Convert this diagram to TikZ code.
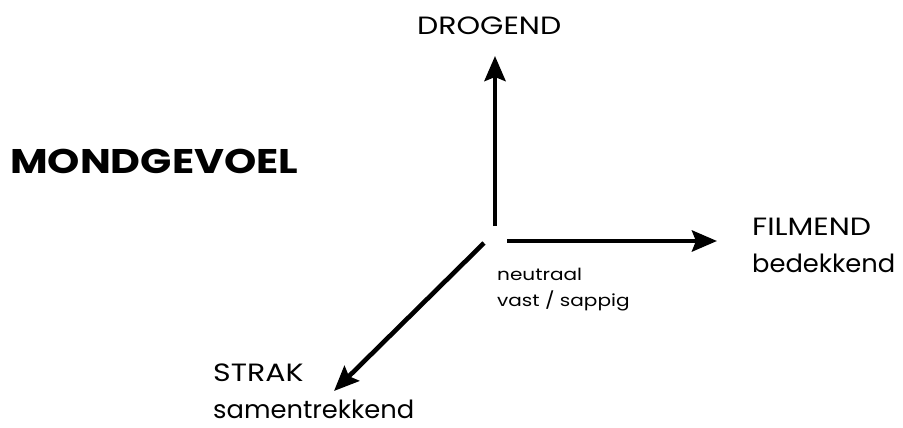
\documentclass[tikz,border=0pt]{standalone}
\usepackage{fontspec}
\setmainfont{Poppins}[FakeStretch=1.2]
\newfontfamily\lowerfont{Poppins}[FakeStretch=1.03]
\usetikzlibrary{arrows.meta}
\begin{document}
\begin{tikzpicture}[x=1pt,y=-1pt,
  axis/.style={line width=4.6pt,-{Stealth[length=25pt,width=21pt,inset=4pt]}},
  lbl/.style={inner sep=0pt,anchor=base west,font=\fontsize{25}{37}\selectfont,align=left},
  small/.style={inner sep=0pt,anchor=base west,font=\fontsize{16.7}{26}\selectfont,align=left}]
\useasboundingbox (0,0) rectangle (903,428);
\coordinate (vs) at (495,226);
\coordinate (ve) at (495,56);
\coordinate (hs) at (507,241);
\coordinate (he) at (717,241);
\coordinate (ds) at (484,243);
\coordinate (de) at (334,391);
\draw[axis] (vs) -- (ve);
\draw[axis] (hs) -- (he);
\draw[axis] (ds) -- (de);
\node[inner sep=0pt,anchor=base west,font=\fontsize{34.2}{35}\selectfont\bfseries] (title) at (10,173) {MONDGEVOEL};
\node[lbl] (drogend) at (417,35) {DROGEND};
% multi-line nodes: base anchor sits on the last line
\node[lbl] (filmend) at (752,272) {FILMEND\\{\lowerfont bedekkend}};
\node[lbl] (strak) at (213,418) {STRAK\\{\lowerfont samentrekkend}};
\node[small] (neutraal) at (497,306) {neutraal\\vast / sappig};
\end{tikzpicture}
\end{document}
